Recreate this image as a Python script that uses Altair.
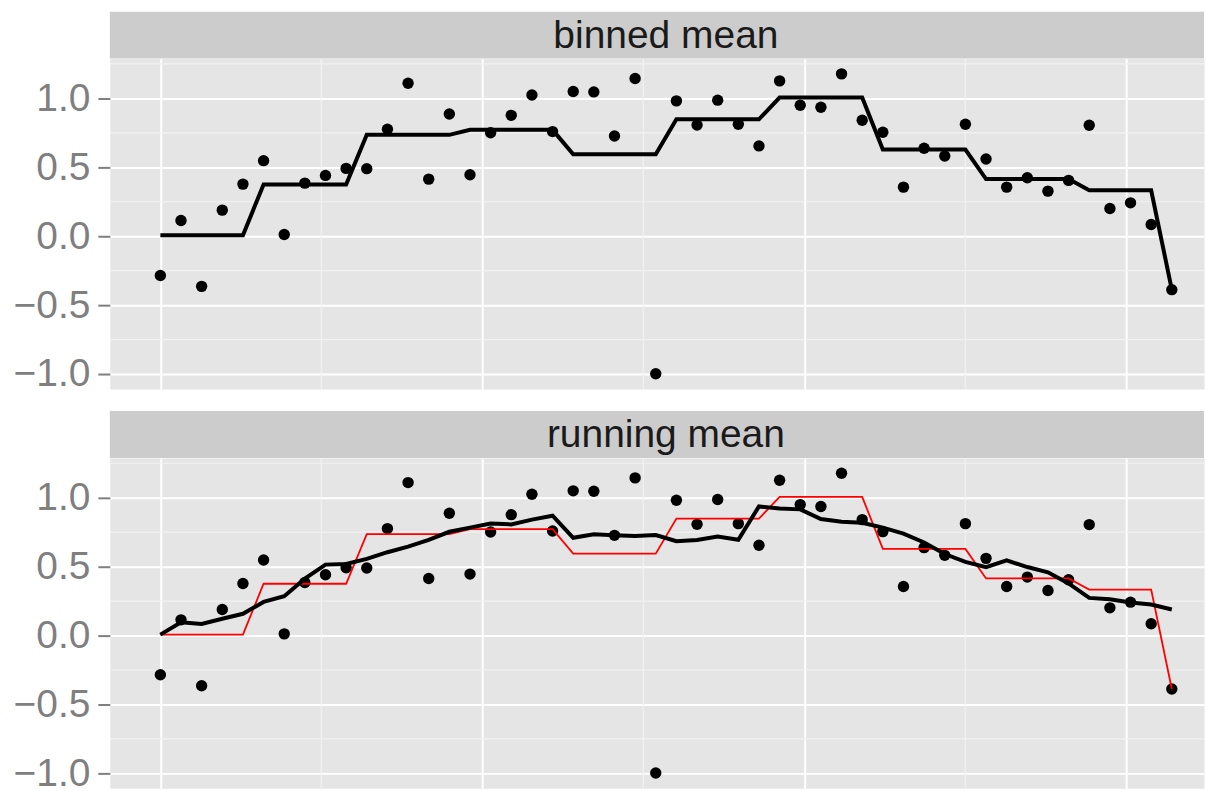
import altair as alt
import pandas as pd

# ---- data ----
x_vals = [0.0000, 0.0641, 0.1282, 0.1923, 0.2565, 0.3206, 0.3847, 0.4488, 0.5129, 0.5770,
          0.6411, 0.7053, 0.7694, 0.8335, 0.8976, 0.9617, 1.0258, 1.0899, 1.1541, 1.2182,
          1.2823, 1.3464, 1.4105, 1.4746, 1.5387, 1.6029, 1.6670, 1.7311, 1.7952, 1.8593,
          1.9234, 1.9875, 2.0517, 2.1158, 2.1799, 2.2440, 2.3081, 2.3722, 2.4363, 2.5005,
          2.5646, 2.6287, 2.6928, 2.7569, 2.8210, 2.8851, 2.9493, 3.0134, 3.0775, 3.1416]
y_vals = [-0.285, 0.114, -0.364, 0.189, 0.378, 0.548, 0.012, 0.385, 0.441, 0.492,
          0.490, 0.776, 1.110, 0.414, 0.887, 0.446, 0.751, 0.877, 1.025, 0.759,
          1.050, 1.047, 0.727, 1.144, -0.998, 0.982, 0.807, 0.987, 0.812, 0.655,
          1.127, 0.950, 0.936, 1.178, 0.841, 0.754, 0.356, 0.638, 0.582, 0.812,
          0.560, 0.356, 0.424, 0.327, 0.405, 0.805, 0.201, 0.242, 0.085, -0.388]
bin_ids = [1, 1, 1, 1, 1, 2, 2, 2, 2, 2,
           3, 3, 3, 3, 3, 4, 4, 4, 4, 4,
           5, 5, 5, 5, 5, 6, 6, 6, 6, 6,
           7, 7, 7, 7, 7, 8, 8, 8, 8, 8,
           9, 9, 9, 9, 9, 10, 10, 10, 10, 11]
facet_titles = ["binned mean", "running mean"]
y_major = [-1.0, -0.5, 0.0, 0.5, 1.0]
y_minor = [-0.75, -0.25, 0.25, 0.75, 1.25]
x_major = [0, 1, 2, 3]
x_minor = [0.5, 1.5, 2.5]

df = pd.DataFrame({"x": x_vals, "y": y_vals, "bin": bin_ids})

W, H, STRIP = 1096, 331, 47
FONT = "Liberation Sans"
FS = 39

xscale = alt.Scale(domain=[-0.157, 3.2416], nice=False, zero=False)
yscale = alt.Scale(domain=[-1.109, 1.289], nice=False, zero=False)

xaxis = alt.Axis(values=x_major, labels=False, ticks=False, domain=False, title="",
                 grid=True, gridColor="white", gridWidth=2)
yaxis = alt.Axis(values=y_major, format=".1f", domain=False, title="",
                 grid=True, gridColor="white", gridWidth=2,
                 tickSize=12, tickWidth=2, tickColor="#7F7F7F",
                 labelPadding=8, labelFontSize=FS, labelColor="#7F7F7F", labelFont=FONT)


def panel(title, running):
    minor_y = alt.Chart(pd.DataFrame({"v": y_minor})).mark_rule(
        color="#F2F2F2", strokeWidth=1.2
    ).encode(y=alt.Y("v:Q", scale=yscale, axis=yaxis), x=alt.value(0), x2=alt.value(W))
    minor_x = alt.Chart(pd.DataFrame({"v": x_minor})).mark_rule(
        color="#F2F2F2", strokeWidth=1.2
    ).encode(x=alt.X("v:Q", scale=xscale, axis=xaxis), y=alt.value(0), y2=alt.value(H))
    strip = alt.Chart(pd.DataFrame({"t": [title]})).mark_rect(color="#CCCCCC").encode(
        x=alt.value(0), x2=alt.value(W), y=alt.value(-STRIP), y2=alt.value(0)
    )
    strip_text = alt.Chart(pd.DataFrame({"t": [title]})).mark_text(
        font=FONT, fontSize=FS, color="#1A1A1A", align="center", baseline="middle"
    ).encode(x=alt.value(557), y=alt.value(-STRIP / 2 + 1), text="t:N")
    points = alt.Chart(df).mark_circle(color="black", opacity=1, size=130).encode(
        x=alt.X("x:Q", scale=xscale, axis=xaxis),
        y=alt.Y("y:Q", scale=yscale, axis=yaxis),
    )
    binned = alt.Chart(df).transform_joinaggregate(
        bm="mean(y)", groupby=["bin"]
    ).mark_line(
        color="#FF0000" if running else "black",
        strokeWidth=1.8 if running else 4,
    ).encode(
        x=alt.X("x:Q", scale=xscale, axis=xaxis),
        y=alt.Y("bm:Q", scale=yscale, axis=yaxis),
        order="x:Q",
    )
    layers = [minor_y, minor_x, strip, strip_text, points, binned]
    if running:
        run = alt.Chart(df).transform_window(
            rm="mean(y)", frame=[-4, 4], sort=[alt.SortField("x")]
        ).mark_line(color="black", strokeWidth=4).encode(
            x=alt.X("x:Q", scale=xscale, axis=xaxis),
            y=alt.Y("rm:Q", scale=yscale, axis=yaxis),
            order="x:Q",
        )
        layers.append(run)
    return alt.layer(*layers).properties(width=W, height=H)


chart = alt.vconcat(
    panel(facet_titles[0], False), panel(facet_titles[1], True), spacing=15
).properties(
    padding={"left": 12, "top": 10, "right": 0, "bottom": 0},
    background="white",
).configure_view(fill="#E5E5E5", stroke="transparent")

chart.save("out.html", embed_options={"renderer": "svg", "actions": False})
